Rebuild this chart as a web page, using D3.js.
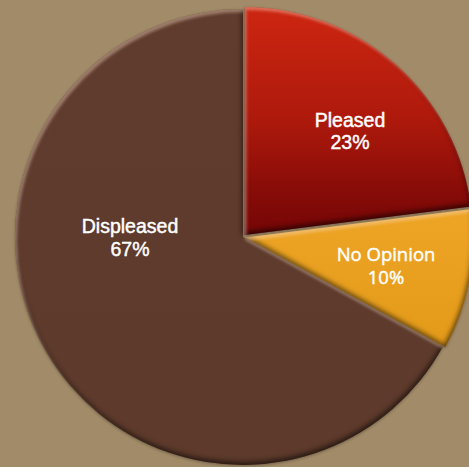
<!DOCTYPE html>
<html>
<head>
<meta charset="utf-8">
<script src="https://cdn.jsdelivr.net/npm/d3@7"></script>
<style>
  html, body { margin: 0; padding: 0; background: #a28b68; }
  svg { display: block; }
</style>
</head>
<body>
<svg id="chart" width="469" height="467"></svg>
<script>
// Survey response shares
const categories = ["Pleased", "No Opinion", "Displeased"];
const shares = [23, 10, 67];
const pctLabels = ["23%", "10%", "67%"];

const W = 469, H = 467;
const cx = 243, cy = 237, R = 228;

const svg = d3.select("#chart");
const defs = svg.append("defs");

// Vertical gradients give each slice its lit-from-above look
const grads = [
  { id: "gPleased", stops: [["0%", "#cd2611"], ["50%", "#ad190c"], ["80%", "#880c08"], ["100%", "#740606"]] },
  { id: "gNoOpinion", stops: [["0%", "#eea526"], ["100%", "#e39a18"]] },
  { id: "gDispleased", stops: [["0%", "#5f3c2d"], ["100%", "#5d3a2b"]] }
];
grads.forEach(g => {
  const lg = defs.append("linearGradient").attr("id", g.id)
    .attr("x1", 0).attr("y1", 0).attr("x2", 0).attr("y2", 1);
  g.stops.forEach(s => lg.append("stop").attr("offset", s[0]).attr("stop-color", s[1]));
});

// Inner bevel: light rim on upper-left edges, dark rim on lower edges
const f = defs.append("filter").attr("id", "bevel")
  .attr("color-interpolation-filters", "sRGB")
  .attr("x", "-10%").attr("y", "-10%").attr("width", "120%").attr("height", "120%");
f.append("feComponentTransfer").attr("in", "SourceAlpha").attr("result", "inv")
  .append("feFuncA").attr("type", "table").attr("tableValues", "1 0");
f.append("feOffset").attr("in", "inv").attr("dx", 1.5).attr("dy", 3).attr("result", "invDown");
f.append("feGaussianBlur").attr("in", "invDown").attr("stdDeviation", 1.6).attr("result", "hiBlur");
f.append("feFlood").attr("flood-color", "#ffe2cc").attr("flood-opacity", 0.4).attr("result", "hiFlood");
f.append("feComposite").attr("in", "hiFlood").attr("in2", "hiBlur").attr("operator", "in").attr("result", "hiCol");
f.append("feComposite").attr("in", "hiCol").attr("in2", "SourceAlpha").attr("operator", "in").attr("result", "hi");
f.append("feOffset").attr("in", "inv").attr("dx", -1.5).attr("dy", -3.5).attr("result", "invUp");
f.append("feGaussianBlur").attr("in", "invUp").attr("stdDeviation", 2.4).attr("result", "shBlur");
f.append("feFlood").attr("flood-color", "#000").attr("flood-opacity", 0.55).attr("result", "shFlood");
f.append("feComposite").attr("in", "shFlood").attr("in2", "shBlur").attr("operator", "in").attr("result", "shCol");
f.append("feComposite").attr("in", "shCol").attr("in2", "SourceAlpha").attr("operator", "in").attr("result", "sh");
const m = f.append("feMerge");
m.append("feMergeNode").attr("in", "SourceGraphic");
m.append("feMergeNode").attr("in", "sh");
m.append("feMergeNode").attr("in", "hi");

// Soft outer shadow under the whole pie
const ds = defs.append("filter").attr("id", "drop")
  .attr("color-interpolation-filters", "sRGB")
  .attr("x", "-10%").attr("y", "-10%").attr("width", "120%").attr("height", "120%");
ds.append("feGaussianBlur").attr("in", "SourceAlpha").attr("stdDeviation", 1.5);
ds.append("feOffset").attr("dx", 0).attr("dy", 1).attr("result", "b");
ds.append("feComponentTransfer").attr("in", "b").attr("result", "bs")
  .append("feFuncA").attr("type", "linear").attr("slope", 0.3);
const dm = ds.append("feMerge");
dm.append("feMergeNode").attr("in", "bs");
dm.append("feMergeNode").attr("in", "SourceGraphic");

const data = categories.map((c, i) => ({ name: c, value: shares[i], pct: pctLabels[i], grad: grads[i].id }));

const pie = d3.pie().value(d => d.value).sort(null);
const arc = d3.arc().innerRadius(0).outerRadius(R);
const arcs = pie(data);

// Slight pull-out for the two smaller slices
const explode = { "Pleased": 2.5, "No Opinion": 2.5, "Displeased": 0 };

const g = svg.append("g").attr("transform", `translate(${cx},${cy})`).attr("filter", "url(#drop)");

g.selectAll("path.slice").data(arcs).join("path")
  .attr("class", "slice")
  .attr("transform", d => {
    const a = (d.startAngle + d.endAngle) / 2;
    const k = explode[d.data.name];
    return `translate(${Math.sin(a) * k},${-Math.cos(a) * k})`;
  })
  .attr("d", arc)
  .attr("fill", d => `url(#${d.data.grad})`)
  .attr("filter", "url(#bevel)");

// Label placement and type per slice
const labelStyle = {
  "Pleased":    { x: 350, y: 127, dy: 22, font: "'Liberation Sans', Arial, sans-serif", size: 19.5 },
  "No Opinion": { x: 386, y: 261, dy: 23, font: "'Open Sans', sans-serif", size: 18.5 },
  "Displeased": { x: 130, y: 233, dy: 23, font: "'Liberation Sans', Arial, sans-serif", size: 19.5 }
};

const labels = svg.append("g").selectAll("text").data(arcs).join("text")
  .attr("text-anchor", "middle")
  .attr("fill", "#ffffff")
  .attr("stroke", "#ffffff")
  .attr("stroke-width", 0.45)
  .style("font-family", d => labelStyle[d.data.name].font)
  .style("font-size", d => labelStyle[d.data.name].size + "px");

labels.append("tspan")
  .attr("x", d => labelStyle[d.data.name].x)
  .attr("y", d => labelStyle[d.data.name].y)
  .text(d => d.data.name);
labels.append("tspan")
  .attr("x", d => labelStyle[d.data.name].x)
  .attr("y", d => labelStyle[d.data.name].y + labelStyle[d.data.name].dy)
  .text(d => d.data.pct);
</script>
</body>
</html>
